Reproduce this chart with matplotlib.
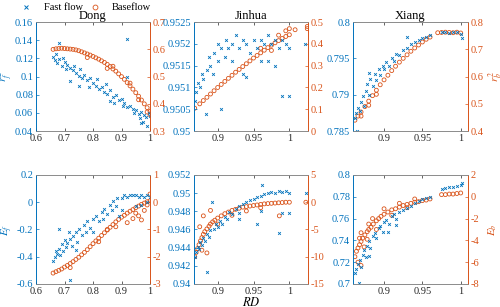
import numpy as np
import matplotlib
matplotlib.use("Agg")
import matplotlib.pyplot as plt
from matplotlib.lines import Line2D

plt.rcParams['font.family'] = ['Liberation Serif', 'DejaVu Serif']
plt.rcParams['mathtext.fontset'] = 'stix'

BLUE = '#0072BD'
ORANGE = '#D95319'

# ---- data: (RD, value) pairs ----
dong_fast_r2 = [
    (0.66, 0.122), (0.665, 0.118), (0.67, 0.125), (0.675, 0.115), (0.68, 0.137), (0.68, 0.119),
    (0.69, 0.112), (0.695, 0.121), (0.70, 0.116), (0.705, 0.108), (0.71, 0.113), (0.72, 0.110),
    (0.72, 0.095), (0.73, 0.107), (0.735, 0.112), (0.74, 0.104), (0.75, 0.101), (0.755, 0.108),
    (0.76, 0.098), (0.77, 0.102), (0.78, 0.096), (0.785, 0.088), (0.79, 0.099), (0.80, 0.093),
    (0.81, 0.090), (0.815, 0.097), (0.82, 0.086), (0.83, 0.089), (0.84, 0.083), (0.845, 0.092),
    (0.85, 0.081), (0.86, 0.085), (0.87, 0.078), (0.875, 0.071), (0.88, 0.080), (0.89, 0.074),
    (0.90, 0.075), (0.905, 0.068), (0.91, 0.071), (0.92, 0.141), (0.92, 0.067), (0.93, 0.068),
    (0.94, 0.064), (0.945, 0.060), (0.95, 0.063), (0.96, 0.059), (0.965, 0.054), (0.97, 0.061),
    (0.975, 0.050), (0.98, 0.058), (0.985, 0.055), (0.99, 0.046), (0.995, 0.060), (1.0, 0.057),
    (0.92, 0.100), (0.86, 0.073), (0.75, 0.090), (0.97, 0.049),
]
dong_base_r2 = [
    (0.66, 0.600), (0.67, 0.602), (0.68, 0.603), (0.69, 0.604), (0.70, 0.603), (0.71, 0.602),
    (0.72, 0.601), (0.73, 0.600), (0.74, 0.598), (0.75, 0.595), (0.76, 0.591), (0.77, 0.587),
    (0.78, 0.583), (0.79, 0.579), (0.80, 0.574), (0.81, 0.569), (0.82, 0.564), (0.83, 0.558),
    (0.84, 0.552), (0.85, 0.545), (0.86, 0.537), (0.87, 0.528), (0.88, 0.520), (0.89, 0.510),
    (0.90, 0.500), (0.91, 0.490), (0.92, 0.478), (0.93, 0.466), (0.94, 0.454), (0.95, 0.441),
    (0.96, 0.428), (0.97, 0.414), (0.98, 0.400), (0.99, 0.386), (1.0, 0.372),
    (0.78, 0.570), (0.85, 0.530), (0.87, 0.538), (0.93, 0.476), (0.96, 0.415), (0.99, 0.370),
    (1.0, 0.360),
]
jinhua_fast_r2 = [
    (0.868, 0.9507), (0.87, 0.9509), (0.872, 0.9511), (0.875, 0.9510), (0.878, 0.9513), (0.88, 0.9512),
    (0.884, 0.9504), (0.885, 0.9514), (0.888, 0.9517), (0.89, 0.9515), (0.893, 0.9513), (0.895, 0.9518),
    (0.90, 0.9516), (0.90, 0.9520), (0.905, 0.9519), (0.905, 0.9505), (0.91, 0.9517), (0.912, 0.9521),
    (0.915, 0.9519), (0.92, 0.9520), (0.92, 0.9516), (0.925, 0.9522), (0.93, 0.9519), (0.935, 0.9521),
    (0.935, 0.9513), (0.94, 0.9520), (0.94, 0.95125), (0.945, 0.9518), (0.95, 0.9521), (0.955, 0.9519),
    (0.96, 0.9521), (0.96, 0.9516), (0.965, 0.9520), (0.97, 0.9522), (0.97, 0.9516), (0.975, 0.9520),
    (0.98, 0.9521), (0.98, 0.9515), (0.985, 0.9519), (0.99, 0.9521), (0.99, 0.9508), (0.995, 0.9520),
    (1.0, 0.9508), (1.0, 0.9519), (1.022, 0.9520),
]
jinhua_base_r2 = [
    (0.868, 0.105), (0.875, 0.125), (0.88, 0.140), (0.885, 0.155), (0.89, 0.170), (0.895, 0.185),
    (0.90, 0.200), (0.905, 0.214), (0.91, 0.228), (0.915, 0.242), (0.92, 0.256), (0.925, 0.270),
    (0.93, 0.283), (0.935, 0.296), (0.94, 0.309), (0.945, 0.322), (0.95, 0.335), (0.955, 0.347),
    (0.96, 0.359), (0.965, 0.371), (0.97, 0.383), (0.975, 0.394), (0.98, 0.405), (0.985, 0.415),
    (0.99, 0.425), (0.995, 0.434), (1.0, 0.442),
    (0.96, 0.380), (0.975, 0.370), (0.985, 0.440), (0.995, 0.460), (1.0, 0.470), (1.008, 0.465),
    (1.025, 0.480), (1.025, 0.470),
]
xiang_fast_r2 = [
    (0.862, 0.7868), (0.864, 0.7875), (0.866, 0.7882), (0.868, 0.7878), (0.87, 0.7890), (0.872, 0.7898),
    (0.874, 0.7885), (0.876, 0.7905), (0.878, 0.7915), (0.88, 0.7900), (0.88, 0.7930), (0.882, 0.7922),
    (0.885, 0.7912), (0.888, 0.7928), (0.89, 0.7920), (0.893, 0.7935), (0.895, 0.7927), (0.898, 0.7940),
    (0.90, 0.7935), (0.903, 0.7945), (0.906, 0.7940), (0.91, 0.7950), (0.913, 0.7946), (0.916, 0.7956),
    (0.92, 0.7955), (0.925, 0.7962), (0.93, 0.7965), (0.93, 0.7980), (0.935, 0.7970), (0.94, 0.7972),
    (0.945, 0.7975), (0.95, 0.7978), (0.955, 0.7980), (0.96, 0.7982), (0.865, 0.7850),
    (0.975, 0.7986), (0.98, 0.7987), (0.985, 0.7985), (0.99, 0.7986), (0.995, 0.7987), (1.0, 0.7984),
    (1.002, 0.7978),
]
xiang_base_r2 = [
    (0.862, 0.440), (0.866, 0.455), (0.87, 0.470), (0.875, 0.490), (0.88, 0.510), (0.885, 0.530),
    (0.89, 0.550), (0.895, 0.570), (0.90, 0.588), (0.905, 0.605), (0.91, 0.622), (0.915, 0.638),
    (0.92, 0.653), (0.925, 0.667), (0.93, 0.680), (0.935, 0.693), (0.94, 0.705), (0.945, 0.716),
    (0.95, 0.727), (0.955, 0.737), (0.96, 0.745), (0.97, 0.761), (0.975, 0.762), (0.98, 0.763),
    (0.985, 0.762), (0.99, 0.761), (0.995, 0.763), (1.0, 0.760),
    (0.87, 0.455), (0.88, 0.495), (0.89, 0.535),
]
dong_fast_e = [
    (0.66, -0.43), (0.665, -0.40), (0.67, -0.36), (0.675, -0.38), (0.68, -0.34), (0.68, -0.20),
    (0.685, -0.39), (0.69, -0.31), (0.695, -0.36), (0.70, -0.28), (0.705, -0.33), (0.71, -0.30),
    (0.715, -0.22), (0.72, -0.27), (0.72, -0.57), (0.725, -0.32), (0.73, -0.25), (0.74, -0.22),
    (0.74, -0.35), (0.745, -0.29), (0.75, -0.20), (0.76, -0.24), (0.77, -0.17), (0.775, -0.22),
    (0.78, -0.14), (0.79, -0.19), (0.80, -0.12), (0.80, -0.22), (0.81, -0.10), (0.82, -0.14),
    (0.83, -0.07), (0.835, -0.12), (0.84, -0.05), (0.85, -0.09), (0.86, -0.02), (0.865, -0.06),
    (0.87, 0.01), (0.88, -0.03), (0.885, 0.03), (0.89, -0.10), (0.90, 0.03), (0.90, -0.06),
    (0.91, 0.05), (0.92, 0.04), (0.93, 0.05), (0.94, 0.05), (0.95, 0.05), (0.95, -0.03),
    (0.96, 0.04), (0.97, 0.05), (0.97, -0.02), (0.98, 0.04), (0.99, 0.05), (0.99, 0.00), (1.0, 0.04),
]
dong_base_e = [
    (0.66, -2.60), (0.67, -2.55), (0.68, -2.50), (0.69, -2.45), (0.70, -2.38), (0.71, -2.32),
    (0.72, -2.25), (0.73, -2.18), (0.74, -2.10), (0.75, -2.02), (0.76, -1.93), (0.77, -1.84),
    (0.78, -1.74), (0.79, -1.63), (0.80, -1.52), (0.81, -1.42), (0.82, -1.32), (0.83, -1.22),
    (0.84, -1.12), (0.85, -1.02), (0.86, -0.92), (0.87, -0.82), (0.88, -0.72), (0.89, -0.63),
    (0.90, -0.55), (0.91, -0.48), (0.92, -0.40), (0.93, -0.33), (0.94, -0.27), (0.95, -0.20),
    (0.96, -0.14), (0.97, -0.08), (0.98, -0.03), (0.99, 0.02), (1.0, 0.05),
    (0.72, -2.40), (0.82, -1.45), (0.85, -1.00), (0.88, -0.90), (0.92, -0.75), (0.94, -0.60),
    (0.96, -0.50), (0.98, -0.30), (0.99, -0.10), (1.0, 0.30), (0.97, -0.65), (0.95, -0.40),
]
jinhua_fast_e = [
    (0.868, 0.9430), (0.870, 0.9435), (0.872, 0.9441), (0.874, 0.9438), (0.876, 0.9446), (0.878, 0.9443),
    (0.88, 0.9451), (0.882, 0.9447), (0.885, 0.9413), (0.885, 0.9455), (0.888, 0.9452), (0.89, 0.9459),
    (0.892, 0.9490), (0.895, 0.9461), (0.898, 0.9466), (0.90, 0.9463), (0.903, 0.9469), (0.906, 0.9466),
    (0.91, 0.9474), (0.913, 0.9471), (0.916, 0.9479), (0.92, 0.9477), (0.925, 0.9483), (0.93, 0.9486),
    (0.93, 0.9478), (0.93, 0.9472), (0.935, 0.9488), (0.94, 0.9490), (0.945, 0.9492), (0.95, 0.9494),
    (0.955, 0.9496), (0.955, 0.9466), (0.96, 0.9497), (0.96, 0.9480), (0.962, 0.9509), (0.965, 0.9499),
    (0.97, 0.9500), (0.975, 0.9501), (0.98, 0.9500), (0.985, 0.9502), (0.986, 0.9456), (0.99, 0.9501),
    (0.99, 0.9478), (0.995, 0.9502), (1.0, 0.9500), (1.0, 0.9478), (1.023, 0.9500),
]
jinhua_base_e = [
    (0.868, -10.0), (0.870, -9.2), (0.872, -8.5), (0.874, -7.8), (0.876, -7.1), (0.878, -6.5),
    (0.88, -5.9), (0.882, -5.4), (0.885, -4.9), (0.888, -4.4), (0.89, -4.0), (0.893, -3.6),
    (0.896, -3.3), (0.90, -2.9), (0.905, -2.5), (0.91, -2.1), (0.915, -1.8), (0.92, -1.5),
    (0.925, -1.3), (0.93, -1.1), (0.935, -0.9), (0.94, -0.8), (0.945, -0.7), (0.95, -0.6),
    (0.955, -0.5), (0.96, -0.4), (0.965, -0.3), (0.97, -0.25), (0.975, -0.2), (0.98, -0.15),
    (0.985, -0.1), (0.99, -0.05), (0.995, 0.0), (1.0, 0.0),
    (0.885, -9.3), (0.88, -2.5), (0.89, -1.5), (0.875, -4.5), (0.90, -4.0), (0.92, -2.4),
    (0.94, -1.6), (0.986, -2.5), (1.023, 0.0), (0.96, -1.0), (0.878, -8.8),
]
xiang_fast_e = [
    (0.862, 0.710), (0.864, 0.714), (0.866, 0.718), (0.867, 0.701), (0.868, 0.722), (0.870, 0.716),
    (0.872, 0.727), (0.874, 0.731), (0.876, 0.725), (0.878, 0.735), (0.88, 0.739), (0.88, 0.726),
    (0.882, 0.733), (0.885, 0.744), (0.888, 0.747), (0.89, 0.742), (0.893, 0.751), (0.895, 0.753),
    (0.898, 0.748), (0.90, 0.757), (0.903, 0.759), (0.905, 0.748), (0.906, 0.755), (0.91, 0.762),
    (0.913, 0.764), (0.915, 0.754), (0.916, 0.760), (0.92, 0.766), (0.925, 0.768), (0.93, 0.770),
    (0.935, 0.772), (0.94, 0.774), (0.945, 0.776), (0.95, 0.778), (0.955, 0.779), (0.96, 0.780),
    (0.975, 0.787), (0.98, 0.788), (0.985, 0.789), (0.99, 0.789), (0.995, 0.790), (1.0, 0.791),
    (1.002, 0.793),
]
xiang_base_e = [
    (0.862, -5.5), (0.864, -5.0), (0.866, -4.7), (0.868, -4.4), (0.87, -4.1), (0.872, -3.8),
    (0.875, -3.5), (0.878, -3.2), (0.88, -3.0), (0.883, -2.8), (0.886, -2.5), (0.89, -2.2),
    (0.893, -2.0), (0.896, -1.8), (0.90, -1.6), (0.905, -1.4), (0.91, -1.2), (0.915, -1.1),
    (0.92, -0.95), (0.925, -0.8), (0.93, -0.7), (0.935, -0.6), (0.94, -0.5), (0.945, -0.45),
    (0.95, -0.35), (0.955, -0.3), (0.96, -0.2), (0.975, 0.2), (0.98, 0.2), (0.985, 0.25),
    (0.99, 0.25), (0.995, 0.3), (1.0, 0.35),
    (0.866, -6.0), (0.87, -3.3), (0.874, -4.6), (0.868, -3.8), (0.88, -2.5), (0.878, -3.9),
    (0.885, -2.0), (0.89, -3.0), (0.90, -1.1), (0.91, -1.7), (0.92, -0.6), (0.93, -1.0),
    (0.94, -0.2), (0.87, -6.3),
]

# per panel: title, fast data, base data, xlim, xticks, left lim/ticks, right lim/ticks
panels = [
    ('Dong', dong_fast_r2, dong_base_r2, (0.6, 1.0), [0.6, 0.7, 0.8, 0.9, 1],
     (0.04, 0.16), np.arange(0.04, 0.161, 0.02), (0.3, 0.7), np.arange(0.3, 0.71, 0.1)),
    ('Jinhua', jinhua_fast_r2, jinhua_base_r2, (0.867, 1.026), [0.9, 0.95, 1],
     (0.95, 0.9525), np.arange(0.95, 0.95251, 0.0005), (0, 0.5), np.arange(0, 0.51, 0.1)),
    ('Xiang', xiang_fast_r2, xiang_base_r2, (0.8595, 1.0095), [0.9, 0.95, 1],
     (0.785, 0.8), np.arange(0.785, 0.8001, 0.005), (0.4, 0.8), np.arange(0.4, 0.81, 0.1)),
    (None, dong_fast_e, dong_base_e, (0.6, 1.0), [0.6, 0.7, 0.8, 0.9, 1],
     (-0.6, 0.2), np.arange(-0.6, 0.21, 0.2), (-3, 1), np.arange(-3, 1.1, 1)),
    (None, jinhua_fast_e, jinhua_base_e, (0.867, 1.026), [0.9, 0.95, 1],
     (0.94, 0.952), np.arange(0.94, 0.9521, 0.002), (-15, 5), np.arange(-15, 5.1, 5)),
    (None, xiang_fast_e, xiang_base_e, (0.8595, 1.0095), [0.9, 0.95, 1],
     (0.7, 0.8), np.arange(0.7, 0.801, 0.02), (-8, 2), np.arange(-8, 2.1, 2)),
]

lefts = [0.072, 0.388, 0.706]
widths = [0.228, 0.228, 0.230]
bottoms = [0.573, 0.075]
height = 0.355

def fmt(v):
    s = ('%.4f' % v).rstrip('0').rstrip('.')
    return '0' if s == '-0' else s

fig = plt.figure(figsize=(5, 3.07), dpi=100)
FS = 7.5
axes = []
for i, (title, fast, base, xl, xt, yl, yt, yr, ytr) in enumerate(panels):
    row, col = divmod(i, 3)
    ax = fig.add_axes([lefts[col], bottoms[row], widths[col], height])
    ax2 = ax.twinx()
    fx, fy = np.array(fast).T
    bx, by = np.array(base).T
    ax2.scatter(bx, by, marker='o', s=8, lw=0.6, facecolors='none', edgecolors=ORANGE)
    ax.scatter(fx, fy, marker='x', s=4, lw=0.6, color=BLUE)
    ax.set_zorder(ax2.get_zorder() + 1)
    ax.patch.set_visible(False)
    ax.set_xlim(*xl)
    ax.set_xticks(xt)
    ax.set_xticklabels([fmt(v) for v in xt])
    ax.set_ylim(*yl)
    ax.set_yticks(yt)
    ax.set_yticklabels([fmt(v) for v in yt])
    ax2.set_ylim(*yr)
    ax2.set_yticks(ytr)
    ax2.set_yticklabels([fmt(v) for v in ytr])
    ax.tick_params(axis='x', direction='in', length=2.5, width=0.5, labelsize=FS,
                   colors='#262626', pad=2, top=True)
    ax.tick_params(axis='y', direction='in', length=2.5, width=0.5, labelsize=FS, colors=BLUE, pad=2)
    ax2.tick_params(axis='y', direction='in', length=2.5, width=0.5, labelsize=FS, colors=ORANGE, pad=2)
    for a in (ax, ax2):
        a.spines['left'].set_color(BLUE)
        a.spines['right'].set_color(ORANGE)
        a.spines['top'].set_color('#8c8c8c')
        a.spines['bottom'].set_color('#8c8c8c')
        for s in a.spines.values():
            s.set_linewidth(0.6)
    if title:
        ax.set_title(title, fontsize=9, pad=1)
    axes.append((ax, ax2))

axes[0][0].set_ylabel('$r_f^2$', color=BLUE, fontsize=8)
axes[0][0].yaxis.set_label_coords(-0.18, 0.5)
axes[2][1].set_ylabel('$r_b^2$', color=ORANGE, fontsize=8)
axes[2][1].yaxis.set_label_coords(1.165, 0.5)
axes[3][0].set_ylabel('$E_f$', color=BLUE, fontsize=8)
axes[3][0].yaxis.set_label_coords(-0.18, 0.5)
axes[5][1].set_ylabel('$E_b$', color=ORANGE, fontsize=8)
axes[5][1].yaxis.set_label_coords(1.165, 0.5)
axes[4][0].set_xlabel('$RD$', fontsize=9)
axes[4][0].xaxis.set_label_coords(0.5, -0.11)

# legend along the top
ly = 1 - 7 / 307
fig.add_artist(Line2D([26 / 500], [ly], transform=fig.transFigure, ls='none', marker='x',
                      ms=2.5, mew=0.7, color=BLUE))
fig.text(44 / 500, ly, 'Fast flow', fontsize=7.5, va='center', ha='left')
fig.add_artist(Line2D([95 / 500], [ly], transform=fig.transFigure, ls='none', marker='o',
                      ms=3.5, mew=0.6, mfc='none', mec=ORANGE))
fig.text(112 / 500, ly, 'Baseflow', fontsize=7.5, va='center', ha='left')

fig.savefig('out.png', dpi=100)
